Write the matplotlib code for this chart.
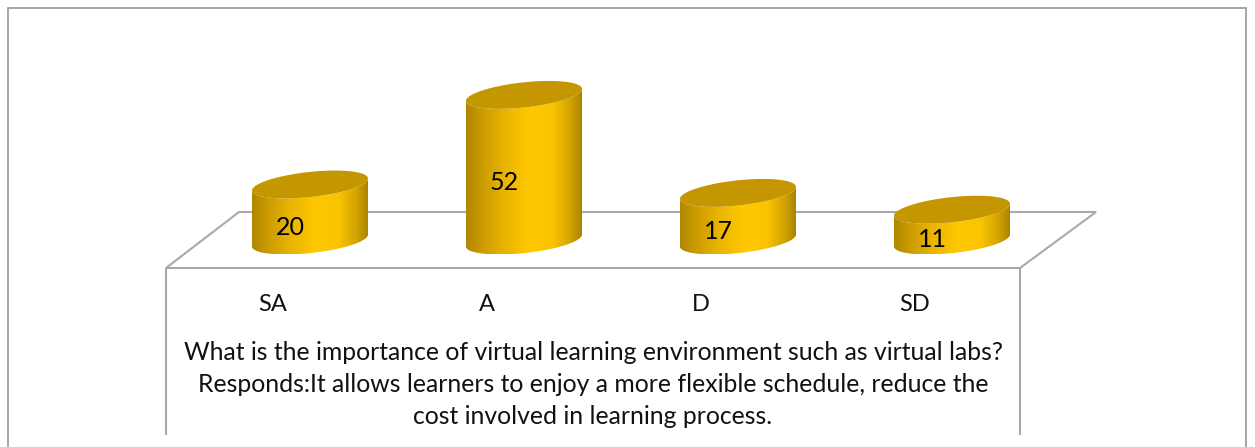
import matplotlib
matplotlib.use('Agg')
import matplotlib.pyplot as plt
from matplotlib.colors import LinearSegmentedColormap
from matplotlib.patches import Polygon
import numpy as np

categories = ['SA', 'A', 'D', 'SD']
values = [20, 52, 17, 11]

title_lines = [
    'What is the importance of virtual learning environment such as virtual labs?',
    'Responds:It allows learners to enjoy a more flexible schedule, reduce the',
    'cost involved in learning process.',
]

W, H = 1255, 447
# pixel layout of the value scale
x0_px, dx_px = 310, 214
y0_px, dy_px = 240.5, 2.8

plt.rcParams['font.family'] = ['Lato', 'DejaVu Sans']

fig = plt.figure(figsize=(W / 100, H / 100), dpi=100)
ax = fig.add_axes([0, 0, 1, 1])
ax.set_xlim(-x0_px / dx_px, (W - x0_px) / dx_px)
ax.set_ylim(-(H - y0_px) / dy_px, y0_px / dy_px)
ax.axis('off')

grey = '#a9a9a9'


def px(x, y):
    return (x - x0_px) / dx_px, (y0_px - y) / dy_px


def gline(xs, ys, lw=1.5, color=grey):
    pts = [px(x, y) for x, y in zip(xs, ys)]
    ax.plot([p[0] for p in pts], [p[1] for p in pts], color=color, lw=lw, zorder=1,
            solid_capstyle='butt', solid_joinstyle='miter')


# outer frame, no bottom edge
gline([8, 8, 1246, 1246], [447, 8, 8, 447], lw=1.2, color='#969696')
# floor and the walls under it
gline([166, 239, 1096, 1020, 166], [268, 212, 212, 268, 268])
gline([166, 166], [268, 435])
gline([1020, 1020], [268, 435])

body_cmap = LinearSegmentedColormap.from_list('body', [
    (0.0, '#b08700'), (0.15, '#cd9d00'), (0.35, '#ecb600'), (0.55, '#ffc800'),
    (0.75, '#f9c400'), (0.9, '#d4a400'), (1.0, '#ab8300')])
grad = np.linspace(0, 1, 256).reshape(1, -1)

half_w = 58 / dx_px
half_h = 12.6 / dy_px
tilt = 6 / dy_px
t = np.linspace(0, 2 * np.pi, 181)

for i, v in enumerate(values):
    ex = i + half_w * np.cos(t)
    ey = half_h * np.sin(t) + tilt * np.cos(t)
    # side wall: lower half of the base ellipse, then back along the top
    low = t[(t >= np.pi) & (t <= 2 * np.pi)]
    lx = i + half_w * np.cos(low)
    ly = half_h * np.sin(low) + tilt * np.cos(low)
    outline = np.column_stack([np.r_[lx, lx[::-1]], np.r_[ly, ly[::-1] + v]])
    clip = Polygon(outline, closed=True, transform=ax.transData, fc='none', ec='none')
    ax.add_patch(clip)
    im = ax.imshow(grad, cmap=body_cmap, aspect='auto', zorder=2, interpolation='bilinear',
                   extent=[i - half_w, i + half_w, ly.min(), v + half_h])
    im.set_clip_path(clip)
    ax.fill(ex, ey + v, color='#c49600', lw=0, zorder=3)

ax.set_xlim(-x0_px / dx_px, (W - x0_px) / dx_px)
ax.set_ylim(-(H - y0_px) / dy_px, y0_px / dy_px)

# data labels sit left of centre and just below the middle of each cylinder
for i, v in enumerate(values):
    ax.text(i - 20 / dx_px, v / 2 - 14.5 / dy_px, str(v), ha='center', va='center',
            fontsize=18, color='black', zorder=4)

for i, c in enumerate(categories):
    ax.text(i - 37 / dx_px, px(0, 304.5)[1], c, ha='center', va='center', fontsize=17, color='#111111')

for line, y in zip(title_lines, [353, 385, 417]):
    ax.text(px(593, 0)[0], px(0, y)[1], line, ha='center', va='center', fontsize=17.8, color='#111111')

plt.savefig('out.png', dpi=100)
